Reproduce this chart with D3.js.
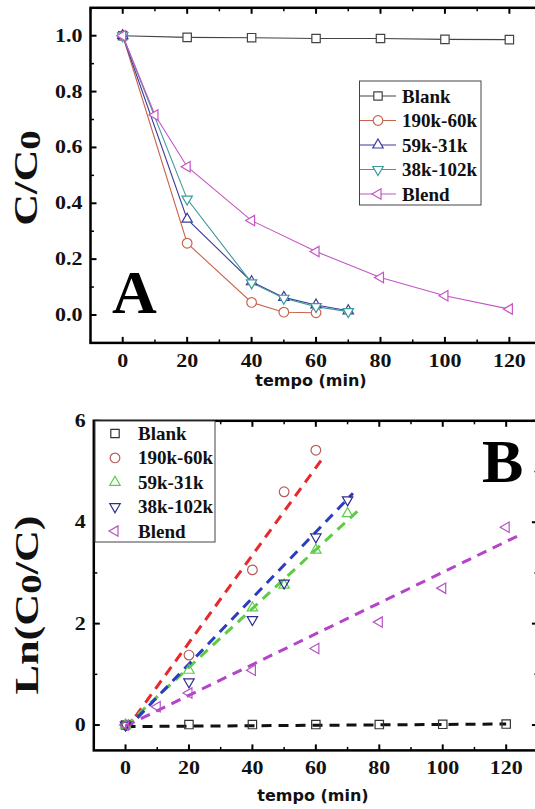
<!DOCTYPE html>
<html>
<head>
<meta charset="utf-8">
<script src="https://cdn.jsdelivr.net/npm/d3@7"></script>
<style>
    body { margin: 0; background: #fff; }
    svg { display: block; }
    .tick-label { font-family: "Liberation Serif", "Times New Roman", serif; font-weight: bold; font-size: 18px; fill: #111; }
    .axis-title { font-family: "DejaVu Sans", sans-serif; font-weight: bold; font-size: 16px; fill: #111; }
    .y-title { font-family: "Liberation Serif", serif; font-weight: bold; font-size: 34px; fill: #111; }
    .legend-text { font-family: "Liberation Serif", serif; font-weight: bold; font-size: 19px; fill: #111; }
    .panel-letter { font-family: "Liberation Serif", serif; font-weight: bold; font-size: 62px; fill: #000; }
</style>
</head>
<body>
<svg id="canvas" width="535" height="809"></svg>
<script>
// ---- dados ----
const seriesNames = ["Blank", "190k-60k", "59k-31k", "38k-102k", "Blend"];

// tempo (min) de cada série
const tBlank = [0, 20, 40, 60, 80, 100, 120];
const t190 = [0, 20, 40, 50, 60];
const t59 = [0, 20, 40, 50, 60, 70];
const t38 = [0, 20, 40, 50, 60, 70];
const tBlend = [0, 10, 20, 40, 60, 80, 100, 120];

// painel A: C/C0
const aBlank = [1.0, 0.994, 0.993, 0.99, 0.99, 0.987, 0.986];
const a190 = [1.0, 0.257, 0.045, 0.01, 0.008];
const a59 = [1.0, 0.343, 0.119, 0.063, 0.036, 0.015];
const a38 = [1.0, 0.415, 0.115, 0.06, 0.03, 0.012];
const aBlend = [1.0, 0.716, 0.531, 0.338, 0.227, 0.134, 0.069, 0.021];

// painel B: Ln(C0/C)
const bBlank = [0, 0.01, 0.01, 0.01, 0.01, 0.015, 0.02];
const b190 = [0, 1.38, 3.06, 4.6, 5.42];
const b59 = [0, 1.08, 2.31, 2.76, 3.45, 4.17];
const b38 = [0, 0.85, 2.08, 2.8, 3.71, 4.44];
const bBlend = [0, 0.36, 0.63, 1.08, 1.51, 2.03, 2.7, 3.9];

// retas de ajuste (extremos)
const fitX = [[0, 120], [0, 62], [0, 73.5], [0, 71.7], [0, 124]];
const fitY = [[-0.03, 0.02], [-0.1, 5.25], [-0.02, 4.24], [-0.1, 4.57], [-0.02, 3.74]];

// eixos
const xTicks = [0, 20, 40, 60, 80, 100, 120];
const xMinor = [-10, 10, 30, 50, 70, 90, 110, 130];
const yTicksA = [0.0, 0.2, 0.4, 0.6, 0.8, 1.0];
const yMinorA = [-0.1, 0.1, 0.3, 0.5, 0.7, 0.9, 1.1];
const yTicksB = [0, 2, 4, 6];
const yMinorB = [1, 3, 5];

const timesAll = [tBlank, t190, t59, t38, tBlend];
const valsA = [aBlank, a190, a59, a38, aBlend];
const valsB = [bBlank, b190, b59, b38, bBlend];
const shapes = ["square", "circle", "up", "down", "left"];
const colorsA = ["#444444", "#c8644e", "#3c3c9c", "#3c9a9a", "#c455c4"];
const markColB = ["#333333", "#b85a5a", "#5ccc4c", "#2c2c90", "#b455c0"];
const fitColor = ["#111111", "#e8282a", "#5ccc44", "#2a3cc0", "#b444c8"];

const svg = d3.select("#canvas");

function markerPath(type, s) {
    if (type === "square") return `M${-s},${-s}H${s}V${s}H${-s}Z`;
    if (type === "circle") return d3.symbol(d3.symbolCircle, Math.PI * s * s * 1.1)();
    const r = s * 1.3;
    if (type === "up") return `M0,${-r}L${r * 0.87},${r * 0.5}L${-r * 0.87},${r * 0.5}Z`;
    if (type === "down") return `M0,${r}L${r * 0.87},${-r * 0.5}L${-r * 0.87},${-r * 0.5}Z`;
    return `M${-r},0L${r * 0.5},${-r * 0.87}L${r * 0.5},${r * 0.87}Z`;
}

function drawFrame(g, x, y, yTicks, yMinor, yFmt) {
    const [x0, x1] = x.range();
    const [y0, y1] = y.range();
    // ticks para dentro
    const ticks = g.append("g").attr("stroke", "#000");
    xTicks.forEach(v => {
        ticks.append("line").attr("x1", x(v)).attr("x2", x(v)).attr("y1", y0).attr("y2", y0 - 6).attr("stroke-width", 2);
        ticks.append("line").attr("x1", x(v)).attr("x2", x(v)).attr("y1", y1).attr("y2", y1 + 6).attr("stroke-width", 2);
    });
    xMinor.forEach(v => {
        ticks.append("line").attr("x1", x(v)).attr("x2", x(v)).attr("y1", y0).attr("y2", y0 - 3.5).attr("stroke-width", 1.5);
        ticks.append("line").attr("x1", x(v)).attr("x2", x(v)).attr("y1", y1).attr("y2", y1 + 3.5).attr("stroke-width", 1.5);
    });
    yTicks.forEach(v => {
        ticks.append("line").attr("x1", x0).attr("x2", x0 + 6).attr("y1", y(v)).attr("y2", y(v)).attr("stroke-width", 2);
        ticks.append("line").attr("x1", x1).attr("x2", x1 - 6).attr("y1", y(v)).attr("y2", y(v)).attr("stroke-width", 2);
    });
    yMinor.forEach(v => {
        ticks.append("line").attr("x1", x0).attr("x2", x0 + 3.5).attr("y1", y(v)).attr("y2", y(v)).attr("stroke-width", 1.5);
        ticks.append("line").attr("x1", x1).attr("x2", x1 - 3.5).attr("y1", y(v)).attr("y2", y(v)).attr("stroke-width", 1.5);
    });
    g.append("rect")
        .attr("x", x0).attr("y", y1)
        .attr("width", x1 - x0).attr("height", y0 - y1)
        .attr("fill", "none").attr("stroke", "#000").attr("stroke-width", 2.5);

    // rótulos um pouco alargados, como na figura original
    g.selectAll(".xl").data(xTicks).join("text")
        .attr("class", "tick-label")
        .attr("transform", d => `translate(${x(d)},${y0 + 24}) scale(1.22,1)`)
        .attr("text-anchor", "middle")
        .text(d => d);
    g.selectAll(".yl").data(yTicks).join("text")
        .attr("class", "tick-label")
        .attr("transform", d => `translate(${x0 - 8},${y(d) + 6}) scale(1.22,1)`)
        .attr("text-anchor", "end")
        .text(yFmt);
}

// ---------------- Painel A ----------------
const xA = d3.scaleLinear().domain([-10, 130]).range([90.5, 541.6]);
const yA = d3.scaleLinear().domain([-0.1, 1.1]).range([342.9, 7.8]);
const gA = svg.append("g");

drawFrame(gA, xA, yA, yTicksA, yMinorA, d => d.toFixed(1));

const lineA = d3.line().x(d => xA(d[0])).y(d => yA(d[1]));
seriesNames.forEach((name, i) => {
    const pts = timesAll[i].map((t, k) => [t, valsA[i][k]]);
    gA.append("path").datum(pts)
        .attr("d", lineA)
        .attr("fill", "none").attr("stroke", colorsA[i]).attr("stroke-width", 1.1);
});
seriesNames.forEach((name, i) => {
    const pts = timesAll[i].map((t, k) => [t, valsA[i][k]]);
    gA.selectAll(".m" + i).data(pts).join("path")
        .attr("transform", d => `translate(${xA(d[0])},${yA(d[1])})`)
        .attr("d", markerPath(shapes[i], i === 0 ? 4.2 : 4.6))
        .attr("fill", "#fff").attr("stroke", colorsA[i]).attr("stroke-width", 1.2);
});

// legenda A
const legA = gA.append("g");
legA.append("rect").attr("x", 359.5).attr("y", 81).attr("width", 121.5).attr("height", 124)
    .attr("fill", "#fff").attr("stroke", "#444").attr("stroke-width", 1);
seriesNames.forEach((name, i) => {
    const ly = 96 + i * 24.5;
    legA.append("line").attr("x1", 360).attr("x2", 396).attr("y1", ly).attr("y2", ly)
        .attr("stroke", colorsA[i]).attr("stroke-width", 1.1);
    legA.append("path").attr("transform", `translate(378,${ly})`)
        .attr("d", markerPath(shapes[i], i === 0 ? 4.2 : 4.6))
        .attr("fill", "#fff").attr("stroke", colorsA[i]).attr("stroke-width", 1.2);
    legA.append("text").attr("class", "legend-text").attr("x", 402).attr("y", ly + 6.5).text(name);
});

gA.append("text").attr("class", "panel-letter").attr("x", 112).attr("y", 313).text("A");

gA.append("text").attr("class", "y-title")
    .attr("transform", "translate(37,178) rotate(-90) scale(1.3,1)")
    .attr("text-anchor", "middle")
    .text("C/C")
    .append("tspan").attr("font-size", "30px").attr("dy", 3).text("0");

gA.append("text").attr("class", "axis-title")
    .attr("x", 311).attr("y", 386).attr("text-anchor", "middle")
    .text("tempo (min)");

// ---------------- Painel B ----------------
const xB = d3.scaleLinear().domain([-10, 130]).range([93.8, 537.9]);
const yB = d3.scaleLinear().domain([-0.5, 6]).range([750.4, 420.8]);
const gB = svg.append("g");

drawFrame(gB, xB, yB, yTicksB, yMinorB, d => d);

const lineB = d3.line().x(d => xB(d[0])).y(d => yB(d[1]));
seriesNames.forEach((name, i) => {
    const pts = fitX[i].map((t, k) => [t, fitY[i][k]]);
    gB.append("path").datum(pts)
        .attr("d", lineB)
        .attr("fill", "none").attr("stroke", fitColor[i])
        .attr("stroke-width", 3).attr("stroke-dasharray", "10,7");
});
seriesNames.forEach((name, i) => {
    const pts = timesAll[i].map((t, k) => [t, valsB[i][k]]);
    gB.selectAll(".m" + i).data(pts).join("path")
        .attr("transform", d => `translate(${xB(d[0])},${yB(d[1])})`)
        .attr("d", markerPath(shapes[i], i === 0 ? 4.2 : 4.6))
        .attr("fill", "none").attr("stroke", markColB[i]).attr("stroke-width", 1.2);
});

// legenda B
const legB = gB.append("g");
legB.append("rect").attr("x", 95).attr("y", 421).attr("width", 120).attr("height", 121)
    .attr("fill", "#fff").attr("stroke", "#444").attr("stroke-width", 1);
seriesNames.forEach((name, i) => {
    const ly = 433.5 + i * 24.4;
    legB.append("path").attr("transform", `translate(115,${ly})`)
        .attr("d", markerPath(shapes[i], i === 0 ? 4.2 : 4.6))
        .attr("fill", "none").attr("stroke", markColB[i]).attr("stroke-width", 1.2);
    legB.append("text").attr("class", "legend-text").attr("x", 138).attr("y", ly + 6.5).text(name);
});

gB.append("text").attr("class", "panel-letter").attr("x", 482).attr("y", 482).text("B");

gB.append("text").attr("class", "y-title")
    .attr("transform", "translate(38,605) rotate(-90) scale(1.3,1)")
    .attr("text-anchor", "middle")
    .text("Ln(C")
    .call(t => {
        t.append("tspan").attr("font-size", "30px").attr("dy", 3).text("0");
        t.append("tspan").attr("dy", -3).text("/C)");
    });

gB.append("text").attr("class", "axis-title")
    .attr("x", 313).attr("y", 801).attr("text-anchor", "middle")
    .text("tempo (min)");
</script>
</body>
</html>
